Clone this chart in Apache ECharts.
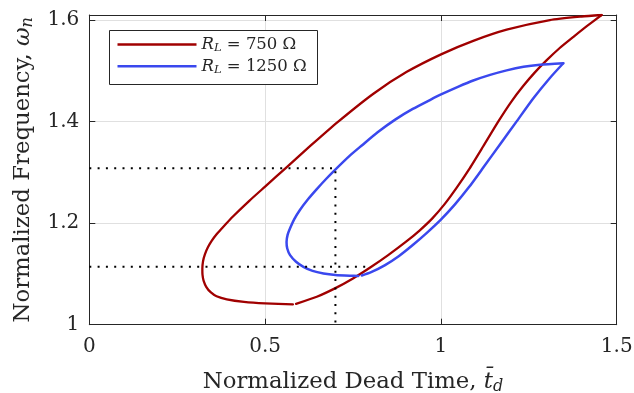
<!DOCTYPE html>
<html>
<head>
<meta charset="utf-8">
<script src="https://cdn.jsdelivr.net/npm/echarts@6/dist/echarts.min.js"></script>
<style>
  html, body { margin: 0; padding: 0; background: #fff; }
  #chart { width: 634px; height: 393px; }
</style>
</head>
<body>
<div id="chart"></div>
<script>
// Axis ticks
const xTicks = [0, 0.5, 1, 1.5];
const yTicks = [1, 1.2, 1.4, 1.6];

// Load resistances (ohms) for the two sweeps
const loads = [750, 1250];

// R_L = 750 ohm, outgoing branch: from the low end, round the left nose, up to the tip
const deadTime750Up = [0.579, 0.50, 0.44, 0.391, 0.362, 0.345, 0.333, 0.325, 0.322, 0.3215, 0.3235, 0.329, 0.337, 0.348, 0.362, 0.380, 0.410, 0.455, 0.500, 0.561, 0.630, 0.708, 0.808, 0.903, 1.002, 1.092, 1.187, 1.310, 1.400, 1.457];
const freq750Up = [1.040, 1.042, 1.045, 1.050, 1.056, 1.064, 1.074, 1.087, 1.098, 1.110, 1.125, 1.139, 1.152, 1.165, 1.178, 1.192, 1.214, 1.244, 1.272, 1.310, 1.353, 1.400, 1.455, 1.498, 1.533, 1.559, 1.581, 1.600, 1.607, 1.610];
// R_L = 750 ohm, return branch: from the tip back down
const deadTime750Down = [1.457, 1.415, 1.377, 1.338, 1.301, 1.266, 1.234, 1.200, 1.163, 1.120, 1.080, 1.045, 1.010, 0.975, 0.940, 0.900, 0.850, 0.800, 0.750, 0.700, 0.647, 0.588];
const freq750Down = [1.610, 1.588, 1.567, 1.545, 1.521, 1.496, 1.470, 1.439, 1.400, 1.351, 1.306, 1.270, 1.237, 1.209, 1.186, 1.163, 1.137, 1.113, 1.091, 1.072, 1.055, 1.041];

// R_L = 1250 ohm, outgoing branch
const deadTime1250Up = [0.765, 0.741, 0.700, 0.666, 0.635, 0.609, 0.588, 0.571, 0.563, 0.561, 0.564, 0.571, 0.583, 0.599, 0.622, 0.647, 0.672, 0.699, 0.741, 0.775, 0.820, 0.870, 0.920, 0.970, 1.002, 1.050, 1.092, 1.140, 1.187, 1.235, 1.282, 1.348];
const freq1250Up = [1.096, 1.0965, 1.098, 1.101, 1.106, 1.114, 1.124, 1.137, 1.150, 1.163, 1.177, 1.190, 1.208, 1.226, 1.247, 1.267, 1.286, 1.305, 1.333, 1.353, 1.379, 1.404, 1.425, 1.443, 1.454, 1.469, 1.481, 1.492, 1.501, 1.508, 1.512, 1.515];
// R_L = 1250 ohm, return branch
const deadTime1250Down = [1.348, 1.310, 1.263, 1.216, 1.170, 1.120, 1.080, 1.040, 1.000, 0.960, 0.920, 0.880, 0.840, 0.800, 0.775];
const freq1250Down = [1.515, 1.486, 1.446, 1.401, 1.357, 1.309, 1.271, 1.237, 1.207, 1.181, 1.157, 1.135, 1.117, 1.103, 1.097];

// Dotted guide lines marking the operating points
const guideDeadTime = 0.7;
const guideFreqHigh = 1.308;
const guideFreqLow = 1.114;
const guideLowEnd = 0.8;

const SERIF = 'DejaVu Serif';
const INK = '#262626';
const lineColors = ['#a00000', '#3a48ee'];

const pairs = (xs, ys) => xs.map((x, i) => [x, ys[i]]);
const legendName = r => 'R_L = ' + r + ' Ω';

const chart = echarts.init(document.getElementById('chart'), null, { renderer: 'canvas' });

const tickAxisCommon = {
  type: 'value',
  axisLine: { show: true, onZero: false, lineStyle: { color: INK, width: 1 } },
  axisTick: { show: true, inside: true, length: 6, lineStyle: { color: INK, width: 1 } },
};

const titleRich = {
  n: { fontFamily: SERIF, fontSize: 22.8, color: INK, lineHeight: 26 },
  i: { fontFamily: SERIF, fontStyle: 'italic', fontSize: 22.8, color: INK, lineHeight: 26 },
  s: { fontFamily: SERIF, fontStyle: 'italic', fontSize: 16, color: INK, lineHeight: 11, verticalAlign: 'bottom' }
};

function curve(name, xs, ys, color, width, z) {
  return {
    name, type: 'line', showSymbol: false, symbol: 'none', smooth: 0.2,
    data: pairs(xs, ys),
    lineStyle: { color, width, cap: 'round', join: 'round' }, itemStyle: { color }, z
  };
}

chart.setOption({
  animation: false,
  backgroundColor: '#ffffff',
  grid: { left: 89.3, right: 17.3, top: 15, bottom: 68.3, containLabel: false, outerBoundsMode: 'none' },
  xAxis: [
    Object.assign({}, tickAxisCommon, {
      position: 'bottom',
      min: xTicks[0], max: xTicks[xTicks.length - 1], interval: 0.5,
      axisLabel: { color: INK, fontFamily: SERIF, fontSize: 20, margin: 12,
        formatter: v => String(v) },
      splitLine: { show: true, lineStyle: { color: '#e0e0e0', width: 1 } },
      name: '{n|Normalized Dead Time, }{i|t\u0304}{s|d}',
      nameLocation: 'middle',
      nameGap: 44,
      nameTextStyle: { rich: titleRich }
    }),
    Object.assign({}, tickAxisCommon, {
      position: 'top',
      min: xTicks[0], max: xTicks[xTicks.length - 1], interval: 0.5,
      axisLabel: { show: false },
      splitLine: { show: false }
    })
  ],
  yAxis: [
    Object.assign({}, tickAxisCommon, {
      position: 'left',
      min: yTicks[0], max: 1.61, interval: 0.2,
      axisLabel: { color: INK, fontFamily: SERIF, fontSize: 20, margin: 10, showMaxLabel: false,
        formatter: v => (yTicks.some(t => Math.abs(t - v) < 1e-6) ? String(+v.toFixed(1)) : '') },
      splitLine: { show: true, lineStyle: { color: '#e0e0e0', width: 1 } },
      name: '{n|Normalized Frequency, }{i|ω}{s|n}',
      nameLocation: 'middle',
      nameRotate: 90,
      nameGap: 53,
      nameTextStyle: { rich: titleRich }
    }),
    Object.assign({}, tickAxisCommon, {
      position: 'right',
      min: yTicks[0], max: 1.61, interval: 0.2,
      axisLabel: { show: false },
      splitLine: { show: false }
    })
  ],
  legend: {
    orient: 'vertical',
    left: 109.5, top: 31,
    padding: [5, 8, 5, 8],
    itemGap: 3.3,
    itemWidth: 79,
    itemHeight: 2.5,
    icon: 'rect',
    z: 6,
    data: loads.map(legendName),
    formatter: name => '{i|R}{s|L}{n|' + name.replace('R_L', '') + '}',
    textStyle: {
      padding: [0, 0, 0, 0],
      rich: {
        i: { fontFamily: SERIF, fontStyle: 'italic', fontSize: 16.5, color: INK, lineHeight: 20 },
        n: { fontFamily: SERIF, fontSize: 16.5, color: INK, lineHeight: 20 },
        s: { fontFamily: SERIF, fontStyle: 'italic', fontSize: 11.5, color: INK, lineHeight: 8, verticalAlign: 'bottom' }
      }
    }
  },
  graphic: [{
    type: 'rect', z: 5, silent: true,
    shape: { x: 109.5, y: 30.5, width: 208, height: 54 },
    style: { fill: '#ffffff', stroke: INK, lineWidth: 1 }
  }],
  series: [
    curve(legendName(loads[0]), deadTime750Up, freq750Up, lineColors[0], 2.3, 2),
    curve(legendName(loads[0]), deadTime750Down, freq750Down, lineColors[0], 2.3, 2),
    curve(legendName(loads[1]), deadTime1250Up, freq1250Up, lineColors[1], 2.5, 3),
    curve(legendName(loads[1]), deadTime1250Down, freq1250Down, lineColors[1], 2.5, 3),
    {
      name: 'guide-high', type: 'line', showSymbol: false, symbol: 'none', silent: true,
      data: [[0, guideFreqHigh], [guideDeadTime, guideFreqHigh], [guideDeadTime, yTicks[0]]],
      lineStyle: { color: '#000', width: 2, type: [2, 6.3] }, z: 4
    },
    {
      name: 'guide-low', type: 'line', showSymbol: false, symbol: 'none', silent: true,
      data: [[0, guideFreqLow], [guideLowEnd, guideFreqLow]],
      lineStyle: { color: '#000', width: 2, type: [2, 6.3] }, z: 4
    }
  ]
});
</script>
</body>
</html>
